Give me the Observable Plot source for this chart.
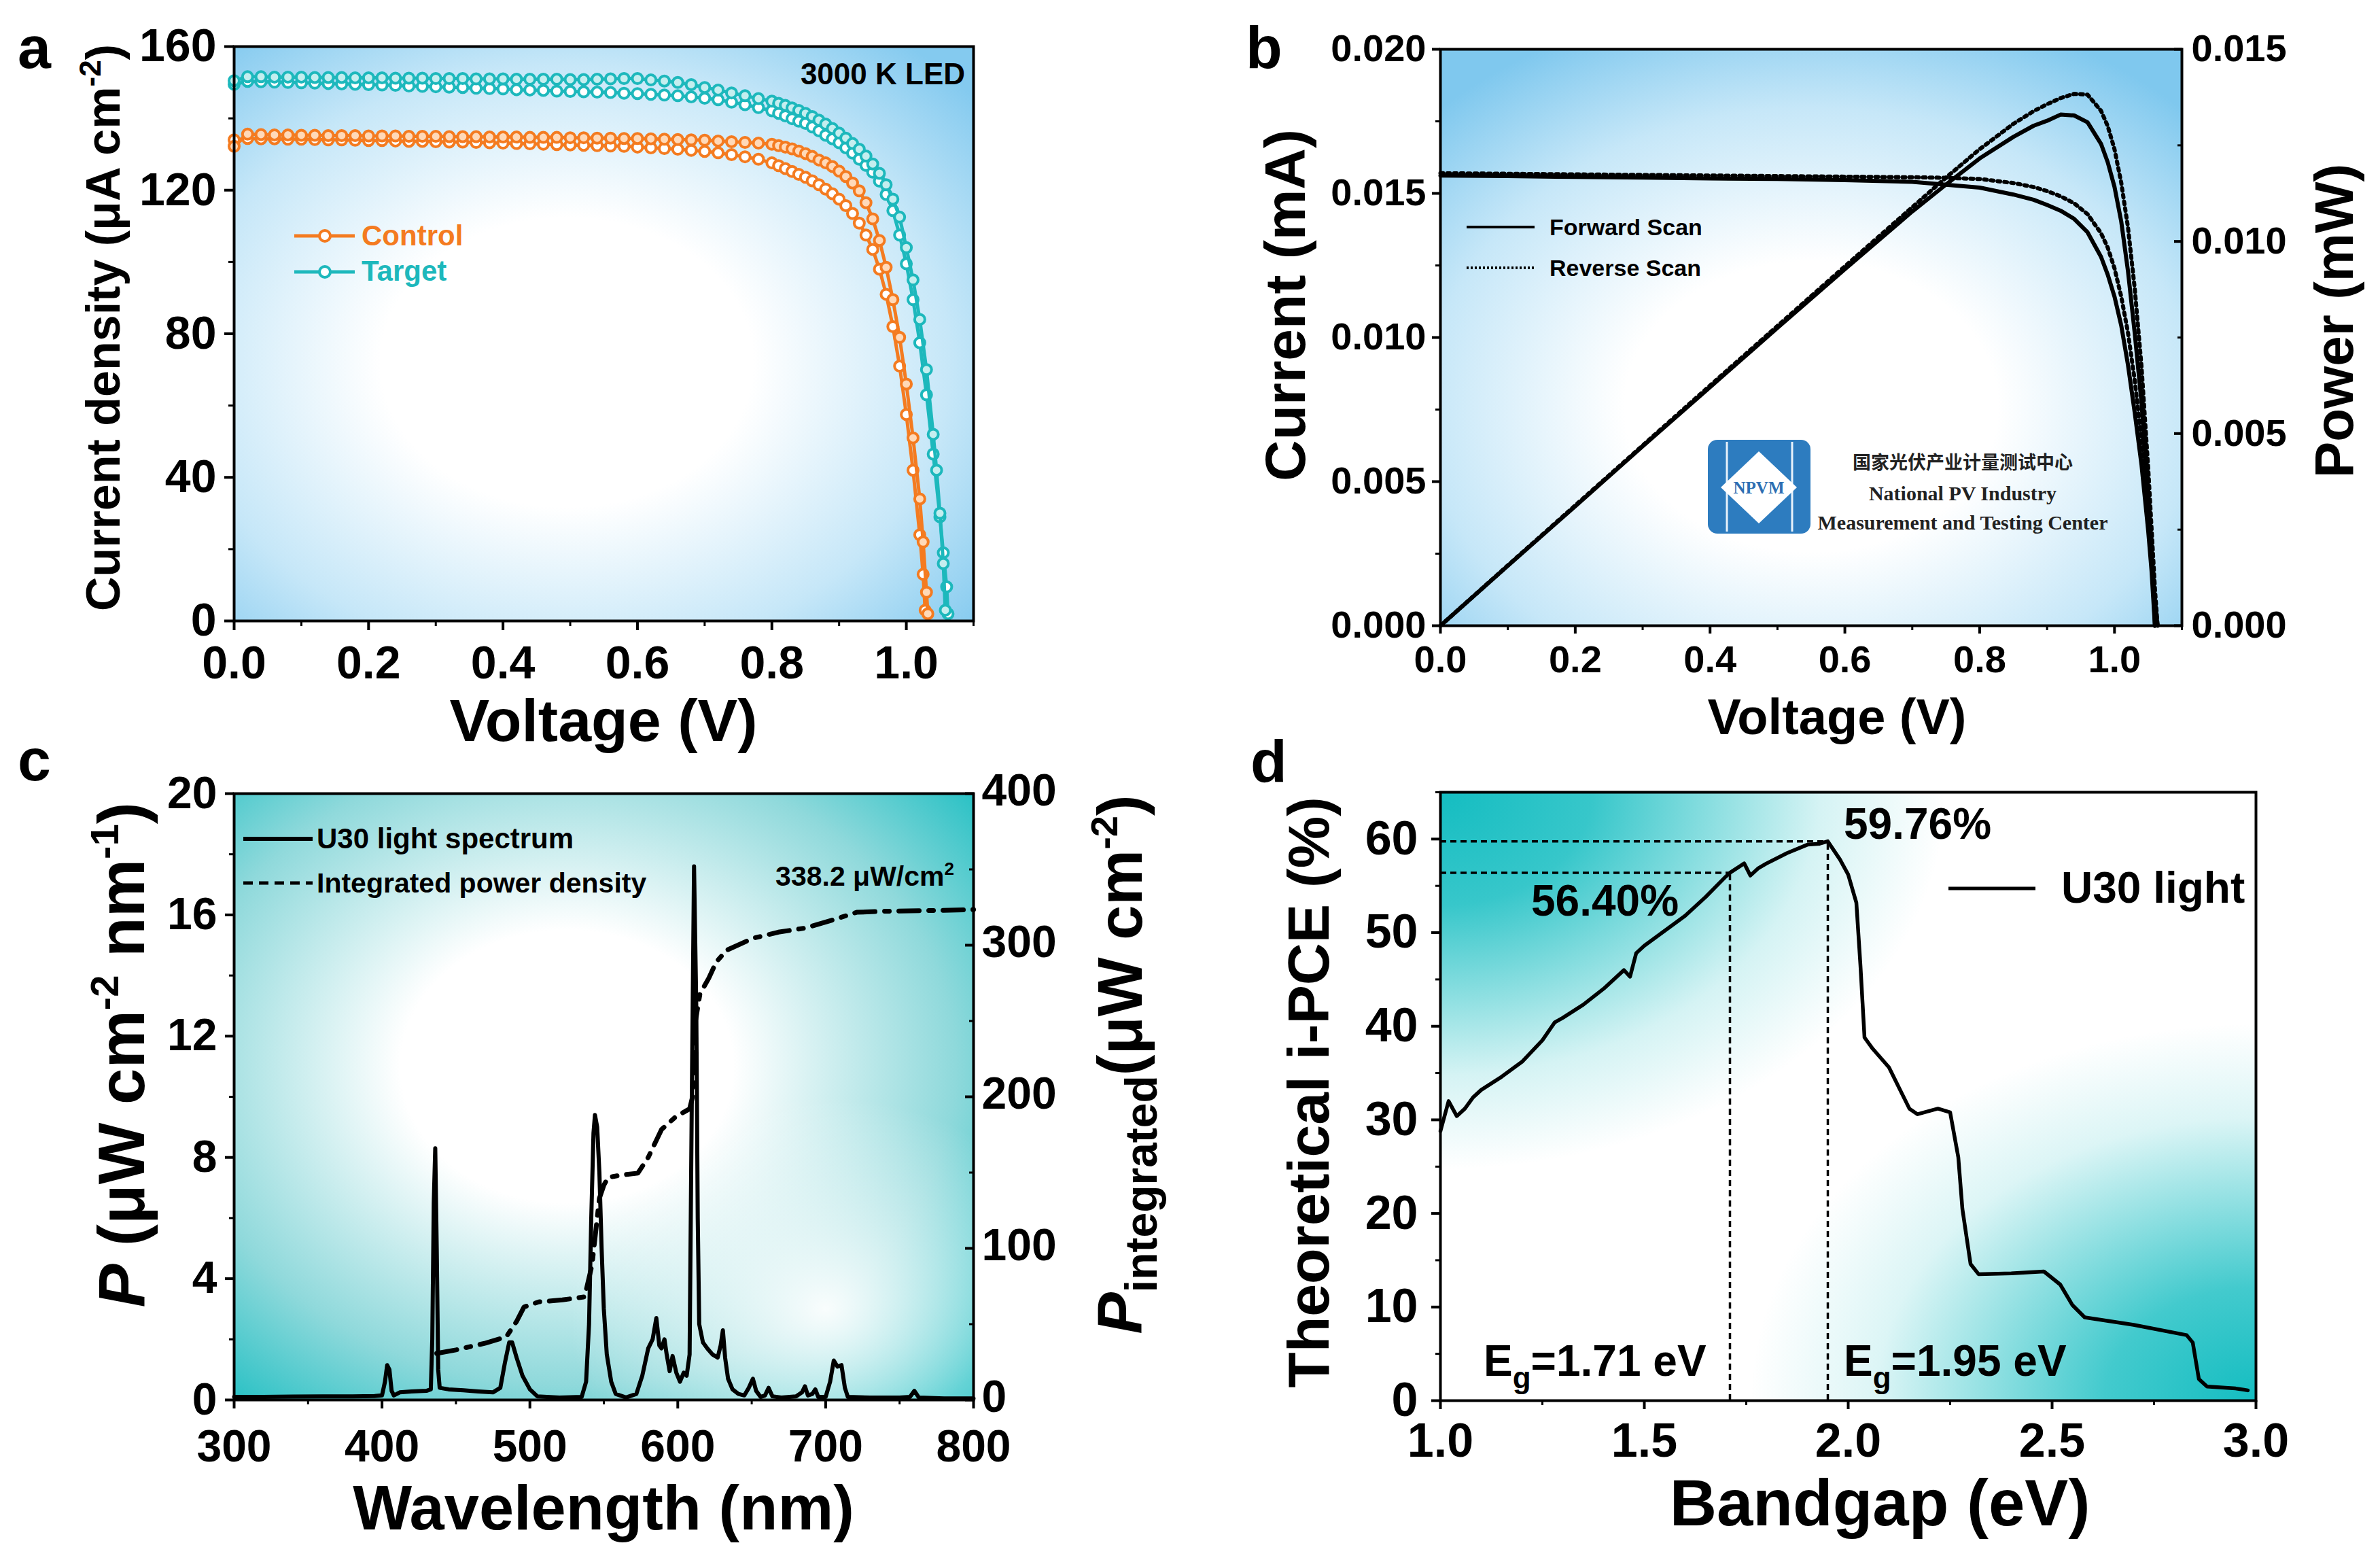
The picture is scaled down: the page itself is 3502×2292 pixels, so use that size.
<!DOCTYPE html>
<html><head><meta charset="utf-8">
<script src="https://cdn.jsdelivr.net/npm/d3@7"></script>
<script src="https://cdn.jsdelivr.net/npm/@observablehq/plot@0.6"></script>
<style>
html,body{margin:0;padding:0;background:#fff;}
#root{position:relative;width:3502px;height:2292px;overflow:hidden;background:#fff;}
.panel{position:absolute;}
#overlay{position:absolute;left:0;top:0;pointer-events:none;}
</style></head>
<body>
<svg width="0" height="0" style="position:absolute">
<defs>
  <radialGradient id="gA" cx="0.45" cy="0.55" r="0.72">
    <stop offset="0" stop-color="#ffffff"/><stop offset="0.35" stop-color="#ffffff"/>
    <stop offset="0.72" stop-color="#c6e7f8"/><stop offset="1" stop-color="#84caef"/>
  </radialGradient>
  <radialGradient id="gB" cx="0.5" cy="0.62" r="0.72">
    <stop offset="0" stop-color="#ffffff"/><stop offset="0.35" stop-color="#ffffff"/>
    <stop offset="0.72" stop-color="#c6e7f8"/><stop offset="1" stop-color="#7fc8ee"/>
  </radialGradient>
  <radialGradient id="gC" cx="0.45" cy="0.45" r="0.75">
    <stop offset="0" stop-color="#ffffff"/><stop offset="0.3" stop-color="#ffffff"/>
    <stop offset="0.7" stop-color="#8fd9db"/><stop offset="1" stop-color="#14bcc0"/>
  </radialGradient>
  <radialGradient id="gC2" cx="0.8" cy="0.85" r="0.35">
    <stop offset="0" stop-color="#ffffff" stop-opacity="0.95"/><stop offset="1" stop-color="#ffffff" stop-opacity="0"/>
  </radialGradient>
  <radialGradient id="gD1" cx="0" cy="0" r="0.62">
    <stop offset="0" stop-color="#14bdc1" stop-opacity="1"/><stop offset="0.3" stop-color="#14bdc1" stop-opacity="0.85"/>
    <stop offset="0.75" stop-color="#14bdc1" stop-opacity="0.18"/><stop offset="1" stop-color="#14bdc1" stop-opacity="0"/>
  </radialGradient>
  <radialGradient id="gD2" cx="1" cy="1" r="0.62">
    <stop offset="0" stop-color="#14bdc1" stop-opacity="1"/><stop offset="0.3" stop-color="#14bdc1" stop-opacity="0.8"/>
    <stop offset="0.75" stop-color="#14bdc1" stop-opacity="0.15"/><stop offset="1" stop-color="#14bdc1" stop-opacity="0"/>
  </radialGradient>
</defs>
</svg>
<div id="root"></div>
<script>
// ---------------- DATA ----------------
// Panel a: J-V curves (uA cm^-2)
const aFlatV = [0,0.02,0.04,0.06,0.08,0.10,0.12,0.14,0.16,0.18,0.20,0.22,0.24,0.26,0.28,0.30,0.32,0.34,0.36,0.38,0.40,0.42,0.44,0.46,0.48,0.50,0.52,0.54,0.56,0.58,0.60,0.62,0.64,0.66,0.68,0.70,0.72,0.74,0.76,0.78];
const ctrlAFlatJ = [132.2,135.6,135.5,135.4,135.4,135.3,135.3,135.2,135.2,135.2,135.1,135.1,135.1,135.0,135.0,135.0,134.9,134.9,134.9,134.8,134.8,134.8,134.7,134.7,134.7,134.6,134.6,134.5,134.5,134.4,134.4,134.3,134.2,134.1,134.0,133.9,133.7,133.5,133.3,133.1];
const ctrlAKneeV = [0.80,0.81,0.82,0.83,0.84,0.85,0.86,0.87,0.88,0.89,0.90,0.91,0.92,0.93,0.94,0.95,0.96,0.97,0.98,0.99,1.00,1.01,1.02,1.025,1.03,1.032];
const ctrlAKneeJ = [132.8,132.4,132.0,131.5,130.9,130.2,129.4,128.4,127.6,126.6,125.3,123.8,122.0,119.8,116.5,112.0,106.0,98.5,89.5,79.0,66.0,51.0,34.0,22.0,8.0,2.0];
const ctrlBFlatJ = [134.0,134.4,134.3,134.3,134.2,134.2,134.1,134.0,134.0,133.9,133.8,133.8,133.7,133.6,133.6,133.5,133.4,133.4,133.3,133.2,133.1,133.0,132.9,132.8,132.7,132.6,132.5,132.4,132.3,132.2,132.0,131.8,131.6,131.4,131.1,130.8,130.4,129.9,129.3,128.6];
const ctrlBKneeV = [0.80,0.81,0.82,0.83,0.84,0.85,0.86,0.87,0.88,0.89,0.90,0.91,0.92,0.93,0.94,0.95,0.96,0.97,0.98,0.99,1.00,1.01,1.02,1.025,1.028];
const ctrlBKneeJ = [127.6,126.8,126.0,125.2,124.4,123.6,122.6,121.5,120.3,119.0,117.5,115.7,113.5,110.8,107.5,103.5,98.0,91.0,82.0,71.0,57.5,42.0,24.0,13.0,3.0];
const tgtAFlatJ = [150.5,151.6,151.6,151.5,151.5,151.5,151.4,151.4,151.4,151.3,151.3,151.3,151.2,151.2,151.2,151.1,151.1,151.1,151.0,151.0,151.0,150.9,150.9,150.9,150.9,150.8,150.8,150.9,151.0,151.1,151.1,150.7,150.4,150.0,149.4,148.6,147.9,147.1,146.3,145.5];
const tgtAKneeV = [0.80,0.81,0.82,0.83,0.84,0.85,0.86,0.87,0.88,0.89,0.90,0.91,0.92,0.93,0.94,0.95,0.96,0.97,0.98,0.99,1.00,1.01,1.02,1.03,1.04,1.045,1.05,1.055,1.058];
const tgtAKneeJ = [144.8,144.2,143.6,142.9,142.2,141.4,140.5,139.5,138.4,137.2,135.9,134.5,133.0,131.4,129.5,127.3,124.7,121.5,117.5,112.5,104.0,95.0,84.0,70.0,52.0,42.0,30.0,16.0,3.0];
const tgtBFlatJ = [149.5,150.3,150.2,150.1,150.0,149.9,149.8,149.7,149.6,149.5,149.4,149.3,149.2,149.0,148.9,148.8,148.7,148.6,148.4,148.3,148.2,148.0,147.9,147.8,147.6,147.5,147.4,147.3,147.2,147.0,146.9,146.7,146.5,146.3,146.0,145.6,145.2,144.5,143.8,143.0];
const tgtBKneeV = [0.80,0.81,0.82,0.83,0.84,0.85,0.86,0.87,0.88,0.89,0.90,0.91,0.92,0.93,0.94,0.95,0.96,0.97,0.98,0.99,1.00,1.01,1.02,1.03,1.04,1.05,1.055,1.06,1.062];
const tgtBKneeJ = [142.1,141.4,140.7,139.9,139.2,138.6,137.6,136.5,135.3,134.3,133.2,131.8,130.3,128.6,126.9,125.0,122.5,118.8,114.3,107.5,99.5,89.5,77.5,63.0,46.5,29.0,19.0,9.5,2.0];
const aXTicks = [0,0.2,0.4,0.6,0.8,1.0];
const aXMinor = [0.1,0.3,0.5,0.7,0.9,1.1];
const aYTicks = [0,40,80,120,160];
const aYMinor = [20,60,100,140];

// Panel b: current (mA) and power (mW)
const bVf = [0,0.1,0.2,0.3,0.4,0.5,0.6,0.7,0.75,0.8,0.85,0.88,0.9,0.92,0.94,0.96,0.98,0.99,1.0,1.01,1.02,1.03,1.04,1.05,1.055,1.06];
const bIf = [0.01562,0.01560,0.01557,0.01555,0.01552,0.01550,0.01546,0.01540,0.01530,0.01520,0.01496,0.01478,0.01460,0.01440,0.01412,0.01365,0.01280,0.01218,0.01142,0.01042,0.00905,0.00740,0.00560,0.00330,0.00190,0.0];
const bPf = [0,0.00156,0.00311,0.00467,0.00621,0.00775,0.00928,0.01078,0.01148,0.01216,0.01272,0.01301,0.01314,0.01330,0.01328,0.01310,0.01254,0.01206,0.01142,0.01052,0.00923,0.00762,0.00582,0.00347,0.00200,0];
const bVr = [0,0.1,0.2,0.3,0.4,0.5,0.6,0.7,0.75,0.8,0.85,0.88,0.9,0.92,0.94,0.96,0.98,0.99,1.0,1.01,1.02,1.03,1.04,1.05,1.055,1.06,1.064];
const bIr = [0.01570,0.01568,0.01566,0.01564,0.01562,0.01560,0.01558,0.01556,0.01554,0.01550,0.01536,0.01522,0.01508,0.01490,0.01466,0.01428,0.01362,0.01312,0.01240,0.01142,0.01017,0.00852,0.00650,0.00390,0.00240,0.00090,0];
const bPr = [0,0.00157,0.00313,0.00469,0.00625,0.00780,0.00935,0.01089,0.01166,0.01240,0.01306,0.01339,0.01357,0.01373,0.01384,0.01382,0.01340,0.01300,0.01240,0.01153,0.01037,0.00878,0.00676,0.00410,0.00253,0.00095,0];
const bXTicks = [0,0.2,0.4,0.6,0.8,1.0];
const bXMinor = [0.1,0.3,0.5,0.7,0.9,1.1];
const bYTicks = [0,0.005,0.010,0.015,0.020];
const bYMinor = [0.0025,0.0075,0.0125,0.0175];
const bRTicks = [0,0.005,0.010,0.015];
const bRMinor = [0.0025,0.0075,0.0125];

// Panel c: spectrum
const cWl = [300,320,340,360,380,395,400,402,403.5,405,406.5,408,412,420,430,433,434,435,436,437,438,439,445,455,465,475,480,483,486,488,491,495,500,505,520,535,538,540,541.5,543,544,545.5,547,548.5,550,552,555,558,565,572,576,580,583,585.5,587.5,589,591,592.5,594.5,596.5,599,601.5,604,606,608,609.5,611,612.5,613.5,614.5,617,620,623.5,627,629,630.5,632,634,637,641,645,648,650.8,653,656,659,661.4,664,670,680,684,686,688,691,693,695,700,703,705.5,708,710.7,713,715,730,750,757,760,763,780,800];
const cP = [0.10,0.10,0.11,0.12,0.12,0.13,0.15,0.6,1.15,1.0,0.3,0.15,0.25,0.28,0.30,0.35,2.0,6.5,8.3,5.0,1.0,0.4,0.35,0.32,0.28,0.25,0.4,1.2,1.9,1.9,1.4,0.8,0.35,0.12,0.08,0.1,0.6,2.5,6.0,8.8,9.4,9.0,7.5,5.0,3.0,1.5,0.6,0.2,0.08,0.2,0.8,1.7,2.0,2.7,1.8,1.7,2.0,1.5,0.95,1.45,0.9,0.6,0.9,0.8,1.5,10,17.6,13,6,2.5,1.9,1.7,1.5,1.4,1.8,2.3,1.4,0.7,0.35,0.2,0.15,0.4,0.7,0.3,0.1,0.15,0.4,0.12,0.08,0.12,0.25,0.45,0.15,0.2,0.35,0.1,0.1,0.6,1.3,1.1,1.15,0.4,0.1,0.08,0.08,0.1,0.3,0.08,0.05,0.05];
const cIntWl = [437,450,470,484,491,496,506,522,537,542,547,550,553,563,573,580,589,598,605,608,610,612,615,621,626,633,651,668,686,704,721,739,774,800];
const cInt = [30.7,33,37.5,41.6,51.8,61.3,64.7,66,68,89,133,141.7,146.9,148.5,149.6,160,178.4,186.3,190.4,192,200,250,267.9,278.3,288.9,296.7,304.6,308.6,311.3,316.4,321.7,322.4,322.9,323.5];
const cXTicks = [300,400,500,600,700,800];
const cXMinor = [350,450,550,650,750];
const cYTicks = [0,4,8,12,16,20];
const cYMinor = [2,6,10,14,18];
const cRTicks = [0,100,200,300,400];
const cRMinor = [50,150,250,350];

// Panel d: theoretical i-PCE vs bandgap
const dE = [1.00,1.02,1.04,1.06,1.08,1.10,1.15,1.20,1.25,1.28,1.30,1.35,1.40,1.45,1.465,1.48,1.50,1.55,1.60,1.65,1.70,1.71,1.745,1.76,1.78,1.80,1.85,1.90,1.93,1.95,1.98,2.00,2.02,2.03,2.04,2.06,2.10,2.15,2.17,2.22,2.25,2.27,2.28,2.30,2.32,2.40,2.48,2.52,2.55,2.58,2.70,2.83,2.845,2.86,2.88,2.95,2.98];
const dPCE = [28.8,32.0,30.4,31.2,32.4,33.2,34.6,36.2,38.5,40.4,40.9,42.3,44.0,46.0,45.3,47.8,48.6,50.2,51.8,53.8,56.0,56.4,57.4,56.1,56.9,57.4,58.5,59.4,59.5,59.76,57.8,56.2,53.2,46.5,38.8,37.6,35.6,31.2,30.6,31.2,30.8,26.0,20.5,14.6,13.5,13.6,13.8,12.4,10.2,8.9,8.1,7.0,6.2,2.3,1.5,1.3,1.1];
const dMarkE = [1.71,1.95];
const dMarkPCE = [56.40,59.76];
const dXTicks = [1.0,1.5,2.0,2.5,3.0];
const dXMinor = [1.25,1.75,2.25,2.75];
const dYTicks = [0,10,20,30,40,50,60];
const dYMinor = [5,15,25,35,45,55,65];

// ---------------- HELPERS ----------------
const ORANGE = "#f47b20", TEAL = "#1db8bc";
const FONT = "'Liberation Sans', Arial, Helvetica, sans-serif";
const root = document.getElementById("root");
function place(svg, left, top, w, h) {
  const d = document.createElement("div");
  d.className = "panel";
  d.style.left = left + "px"; d.style.top = top + "px";
  d.style.width = w + "px"; d.style.height = h + "px";
  d.appendChild(svg); root.appendChild(d);
}
function st(fs) {
  return {fontFamily: FONT, fontWeight: "bold", fontSize: fs + "px", background: "transparent", overflow: "visible", color: "#000", maxWidth: "none"};
}
const zip2 = (xs, ys, kx, ky) => xs.map((x, i) => ({[kx]: x, [ky]: ys[i]}));
const blank = () => "";

// ---------------- PANEL A ----------------
const ctrlA = zip2(aFlatV.concat(ctrlAKneeV), ctrlAFlatJ.concat(ctrlAKneeJ), "v", "j");
const ctrlB = zip2(aFlatV.concat(ctrlBKneeV), ctrlBFlatJ.concat(ctrlBKneeJ), "v", "j");
const tgtA = zip2(aFlatV.concat(tgtAKneeV), tgtAFlatJ.concat(tgtAKneeJ), "v", "j");
const tgtB = zip2(aFlatV.concat(tgtBKneeV), tgtBFlatJ.concat(tgtBKneeJ), "v", "j");
function jv(data, color, fill) {
  return [
    Plot.line(data, {x: "v", y: "j", stroke: color, strokeWidth: 5}),
    Plot.dot(data, {x: "v", y: "j", r: 7.5, stroke: color, strokeWidth: 4, fill: fill})
  ];
}
const plotA = Plot.plot({
  width: 1750, height: 1130, marginLeft: 344, marginRight: 318, marginTop: 68, marginBottom: 217,
  style: st(68),
  x: {domain: [0, 1.1]}, y: {domain: [0, 160]},
  marks: [
    Plot.frame({fill: "url(#gA)", stroke: "none"}),
    ...jv(ctrlB, ORANGE, "#fff"),
    ...jv(ctrlA, ORANGE, "#ffd9b8"),
    ...jv(tgtB, TEAL, "#fff"),
    ...jv(tgtA, TEAL, "#c4eeef"),
    Plot.axisX({ticks: aXTicks, tickSize: 14, tickPadding: 22, tickFormat: d3.format(".1f"), label: null, strokeWidth: 4}),
    Plot.axisX({ticks: aXMinor, tickSize: 8, tickFormat: blank, label: null, strokeWidth: 3}),
    Plot.axisY({ticks: aYTicks, tickSize: 14, tickPadding: 12, tickFormat: d3.format("d"), label: null, strokeWidth: 4}),
    Plot.axisY({ticks: aYMinor, tickSize: 8, tickFormat: blank, label: null, strokeWidth: 3}),
    Plot.frame({stroke: "#000", strokeWidth: 4})
  ]
});
place(plotA, 0, 0, 1750, 1130);

// ---------------- PANEL B ----------------
const bFwdI = zip2(bVf, bIf, "v", "i"), bRevI = zip2(bVr, bIr, "v", "i");
const bFwdP = zip2(bVf, bPf, "v", "p"), bRevP = zip2(bVr, bPr, "v", "p");
const bMargins = {width: 1752, height: 1130, marginLeft: 369, marginRight: 292, marginTop: 72, marginBottom: 210};
const plotB = Plot.plot({
  ...bMargins, style: st(56),
  x: {domain: [0, 1.1]}, y: {domain: [0, 0.020]},
  marks: [
    Plot.frame({fill: "url(#gB)", stroke: "none"}),
    Plot.line(bRevI, {x: "v", y: "i", stroke: "#000", strokeWidth: 6, strokeDasharray: "4,6"}),
    Plot.line(bFwdI, {x: "v", y: "i", stroke: "#000", strokeWidth: 6}),
    Plot.axisX({ticks: bXTicks, tickSize: 12, tickPadding: 17, tickFormat: d3.format(".1f"), label: null, strokeWidth: 4}),
    Plot.axisX({ticks: bXMinor, tickSize: 7, tickFormat: blank, label: null, strokeWidth: 3}),
    Plot.axisY({ticks: bYTicks, tickSize: 12, tickPadding: 9, tickFormat: d3.format(".3f"), label: null, strokeWidth: 4}),
    Plot.axisY({ticks: bYMinor, tickSize: 7, tickFormat: blank, label: null, strokeWidth: 3}),
    Plot.frame({stroke: "#000", strokeWidth: 4})
  ]
});
place(plotB, 1750, 0, 1752, 1130);
const plotB2 = Plot.plot({
  ...bMargins, style: st(56),
  x: {domain: [0, 1.1], axis: null}, y: {domain: [0, 0.015]},
  marks: [
    Plot.line(bRevP, {x: "v", y: "p", stroke: "#000", strokeWidth: 6, strokeDasharray: "4,6"}),
    Plot.line(bFwdP, {x: "v", y: "p", stroke: "#000", strokeWidth: 6}),
    Plot.axisY({anchor: "right", ticks: bRTicks, tickSize: 0, tickPadding: 14, tickFormat: d3.format(".3f"), label: null}),
    Plot.axisY({anchor: "right", ticks: bRTicks, tickSize: -12, tickFormat: blank, label: null, strokeWidth: 4}),
    Plot.axisY({anchor: "right", ticks: bRMinor, tickSize: -7, tickFormat: blank, label: null, strokeWidth: 3})
  ]
});
place(plotB2, 1750, 0, 1752, 1130);

// ---------------- PANEL C ----------------
const cSpec = zip2(cWl, cP, "w", "p");
const cIntD = zip2(cIntWl, cInt, "w", "q");
const cMargins = {width: 1750, height: 1162, marginLeft: 344, marginRight: 318, marginTop: 37, marginBottom: 233};
const plotC = Plot.plot({
  ...cMargins, style: st(66),
  x: {domain: [300, 800]}, y: {domain: [0, 20]},
  marks: [
    Plot.frame({fill: "url(#gC)", stroke: "none"}),
    Plot.frame({fill: "url(#gC2)", stroke: "none"}),
    Plot.line(cSpec, {x: "w", y: "p", stroke: "#000", strokeWidth: 6, strokeLinejoin: "round"}),
    Plot.axisX({ticks: cXTicks, tickSize: 13, tickPadding: 31, tickFormat: d3.format("d"), label: null, strokeWidth: 4}),
    Plot.axisX({ticks: cXMinor, tickSize: 7, tickFormat: blank, label: null, strokeWidth: 3}),
    Plot.axisY({ticks: cYTicks, tickSize: 13, tickPadding: 12, tickFormat: d3.format("d"), label: null, strokeWidth: 4}),
    Plot.axisY({ticks: cYMinor, tickSize: 7, tickFormat: blank, label: null, strokeWidth: 3}),
    Plot.frame({stroke: "#000", strokeWidth: 4})
  ]
});
place(plotC, 0, 1130, 1750, 1162);
const plotC2 = Plot.plot({
  ...cMargins, style: st(66),
  x: {domain: [300, 800], axis: null}, y: {domain: [0, 400]},
  marks: [
    Plot.line(cIntD, {x: "w", y: "q", stroke: "#000", strokeWidth: 7, strokeDasharray: "30,14,7,14"}),
    Plot.axisY({anchor: "right", ticks: cRTicks, tickSize: 0, tickPadding: 12, tickFormat: d3.format("d"), label: null, dy: -4}),
    Plot.axisY({anchor: "right", ticks: cRTicks, tickSize: -13, tickFormat: blank, label: null, strokeWidth: 4}),
    Plot.axisY({anchor: "right", ticks: cRMinor, tickSize: -7, tickFormat: blank, label: null, strokeWidth: 3})
  ]
});
place(plotC2, 0, 1130, 1750, 1162);

// ---------------- PANEL D ----------------
const dCurve = zip2(dE, dPCE, "e", "v");
const dMarks = zip2(dMarkE, dMarkPCE, "e", "v");
const plotD = Plot.plot({
  width: 1752, height: 1162, marginLeft: 369, marginRight: 183, marginTop: 35, marginBottom: 232,
  style: st(70),
  x: {domain: [1.0, 3.0]}, y: {domain: [0, 65]},
  marks: [
    Plot.frame({fill: "#ffffff", stroke: "none"}),
    Plot.frame({fill: "url(#gD1)", stroke: "none"}),
    Plot.frame({fill: "url(#gD2)", stroke: "none"}),
    Plot.ruleY(dMarks, {y: "v", x1: 1.0, x2: "e", stroke: "#000", strokeWidth: 3.5, strokeDasharray: "9,6"}),
    Plot.ruleX(dMarks, {x: "e", y1: 0, y2: "v", stroke: "#000", strokeWidth: 3.5, strokeDasharray: "9,6"}),
    Plot.line(dCurve, {x: "e", y: "v", stroke: "#000", strokeWidth: 5.5, strokeLinejoin: "round"}),
    Plot.axisX({ticks: dXTicks, tickSize: 13, tickPadding: 20, tickFormat: d3.format(".1f"), label: null, strokeWidth: 4}),
    Plot.axisX({ticks: dXMinor, tickSize: 7, tickFormat: blank, label: null, strokeWidth: 3}),
    Plot.axisY({ticks: dYTicks, tickSize: 13, tickPadding: 20, tickFormat: d3.format("d"), label: null, strokeWidth: 4}),
    Plot.axisY({ticks: dYMinor, tickSize: 7, tickFormat: blank, label: null, strokeWidth: 3}),
    Plot.frame({stroke: "#000", strokeWidth: 4})
  ]
});
place(plotD, 1750, 1130, 1752, 1162);

// ---------------- TEXT OVERLAY ----------------
const fmt2 = d3.format(".2f");
const ov = `
<svg id="overlay" width="3502" height="2292" xmlns="http://www.w3.org/2000/svg">
<g font-family="${FONT}" font-weight="bold" fill="#000">
  <text x="26" y="100" font-size="88">a</text>
  <text x="1833" y="100" font-size="88">b</text>
  <text x="26" y="1148" font-size="88">c</text>
  <text x="1840" y="1150" font-size="88">d</text>

  <!-- panel a -->
  <text transform="translate(176,482) rotate(-90)" text-anchor="middle" font-size="70">Current density (μA cm<tspan dy="-28" font-size="44">-2</tspan><tspan dy="28">)</tspan></text>
  <text x="888" y="1090" text-anchor="middle" font-size="88">Voltage (V)</text>
  <text x="1420" y="124" text-anchor="end" font-size="44">3000 K LED</text>
  <line x1="433" y1="347" x2="522" y2="347" stroke="${ORANGE}" stroke-width="5"/>
  <circle cx="478" cy="347" r="8" fill="#fff" stroke="${ORANGE}" stroke-width="4"/>
  <text x="532" y="361" font-size="42" fill="${ORANGE}">Control</text>
  <line x1="433" y1="400" x2="522" y2="400" stroke="${TEAL}" stroke-width="5"/>
  <circle cx="478" cy="400" r="8" fill="#fff" stroke="${TEAL}" stroke-width="4"/>
  <text x="532" y="413" font-size="42" fill="${TEAL}">Target</text>

  <!-- panel b -->
  <text transform="translate(1920,449) rotate(-90)" text-anchor="middle" font-size="84">Current (mA)</text>
  <text transform="translate(3462,472) rotate(-90)" text-anchor="middle" font-size="80">Power (mW)</text>
  <text x="2703" y="1080" text-anchor="middle" font-size="74">Voltage (V)</text>
  <line x1="2158" y1="334" x2="2258" y2="334" stroke="#000" stroke-width="4"/>
  <text x="2280" y="346" font-size="34">Forward Scan</text>
  <line x1="2158" y1="394" x2="2258" y2="394" stroke="#000" stroke-width="4" stroke-dasharray="3,3"/>
  <text x="2280" y="406" font-size="34">Reverse Scan</text>
  <rect x="2513" y="647" width="151" height="138" rx="14" fill="#2d7cbf"/>
  <line x1="2541" y1="650" x2="2541" y2="782" stroke="#e8f2fb" stroke-width="3"/>
  <line x1="2637" y1="650" x2="2637" y2="782" stroke="#e8f2fb" stroke-width="3"/>
  <polygon points="2588,664 2644,717 2588,770 2532,717" fill="#ffffff"/>
  <text x="2588" y="726" text-anchor="middle" font-family="'Liberation Serif', 'Times New Roman', serif" font-size="25" fill="#2d6fb3">NPVM</text>
  <text x="2888" y="690" text-anchor="middle" font-family="'Noto Sans CJK SC', sans-serif" font-weight="bold" font-size="27" fill="#222">国家光伏产业计量测试中心</text>
  <text x="2888" y="736" text-anchor="middle" font-family="'Liberation Serif', 'Times New Roman', serif" font-size="30" fill="#222">National PV Industry</text>
  <text x="2888" y="779" text-anchor="middle" font-family="'Liberation Serif', 'Times New Roman', serif" font-size="30" fill="#222">Measurement and Testing Center</text>

  <!-- panel c -->
  <text transform="translate(212,1552) rotate(-90)" text-anchor="middle" font-size="96"><tspan font-style="italic">P</tspan> (μW cm<tspan dy="-38" font-size="58">-2</tspan><tspan dy="38"> nm</tspan><tspan dy="-38" font-size="58">-1</tspan><tspan dy="38">)</tspan></text>
  <text transform="translate(1680,1566) rotate(-90)" text-anchor="middle" font-size="92"><tspan font-style="italic">P</tspan><tspan dy="22" font-size="66">integrated</tspan><tspan dy="-22">(μW cm</tspan><tspan dy="-36" font-size="56">-2</tspan><tspan dy="36">)</tspan></text>
  <text x="888" y="2250" text-anchor="middle" font-size="92">Wavelength (nm)</text>
  <line x1="358" y1="1234" x2="460" y2="1234" stroke="#000" stroke-width="6"/>
  <text x="466" y="1248" font-size="42">U30 light spectrum</text>
  <line x1="358" y1="1299" x2="460" y2="1299" stroke="#000" stroke-width="5" stroke-dasharray="14,9"/>
  <text x="466" y="1313" font-size="41">Integrated power density</text>
  <text x="1404" y="1303" text-anchor="end" font-size="41">338.2 μW/cm<tspan dy="-16" font-size="26">2</tspan></text>

  <!-- panel d -->
  <text transform="translate(1955,1607) rotate(-90)" text-anchor="middle" font-size="86">Theoretical i-PCE (%)</text>
  <text x="2766" y="2244" text-anchor="middle" font-size="96">Bandgap (eV)</text>
  <text x="2713" y="1234" font-size="64">${fmt2(dMarkPCE[1])}%</text>
  <text x="2253" y="1347" font-size="64">${fmt2(dMarkPCE[0])}%</text>
  <line x1="2867" y1="1307" x2="2995" y2="1307" stroke="#000" stroke-width="5"/>
  <text x="3033" y="1328" font-size="64">U30 light</text>
  <text x="2183" y="2024" font-size="64">E<tspan dy="18" font-size="44">g</tspan><tspan dy="-18">=${dMarkE[0]} eV</tspan></text>
  <text x="2713" y="2024" font-size="64">E<tspan dy="18" font-size="44">g</tspan><tspan dy="-18">=${dMarkE[1]} eV</tspan></text>
</g>
</svg>`;
root.insertAdjacentHTML("beforeend", ov);
</script>
</body></html>
